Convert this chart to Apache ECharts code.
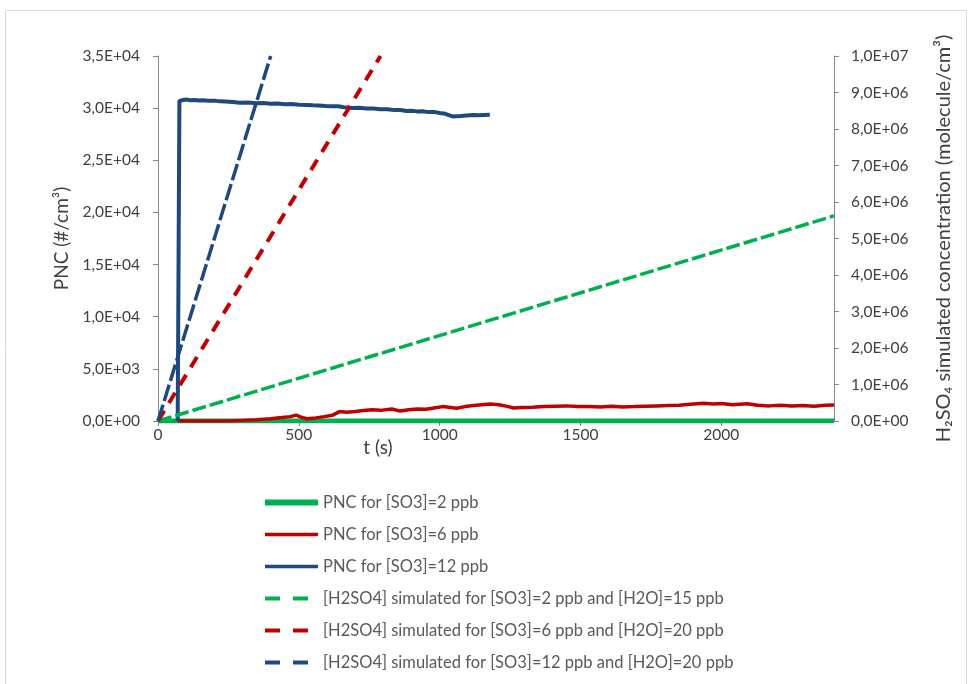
<!DOCTYPE html>
<html>
<head>
<meta charset="utf-8">
<script src="https://cdn.jsdelivr.net/npm/echarts@6/dist/echarts.min.js"></script>
<style>html,body{margin:0;padding:0;background:#fff}#c{width:970px;height:684px}</style>
</head>
<body>
<div id="c"></div>
<script>
// ---- Data (t in s, values) ----
const seriesNames = [
  'PNC for [SO3]=2 ppb',
  'PNC for [SO3]=6 ppb',
  'PNC for [SO3]=12 ppb',
  '[H2SO4] simulated for [SO3]=2 ppb and [H2O]=15 ppb',
  '[H2SO4] simulated for [SO3]=6 ppb and [H2O]=20 ppb',
  '[H2SO4] simulated for [SO3]=12 ppb and [H2O]=20 ppb'
];
const pnc2 = [[0,0],[2400,0]];
const pnc6 = [[70,0],[250,0],[300,60],[350,120],[400,220],[440,330],[470,420],[490,560],[510,350],[530,220],[560,300],[590,420],[620,560],[645,900],[670,850],[700,920],[730,1000],[760,1080],[790,1020],[830,1150],[860,950],[890,1080],[920,1150],[950,1120],[980,1250],[1010,1380],[1040,1300],[1060,1230],[1090,1380],[1120,1480],[1150,1550],[1180,1620],[1210,1560],[1240,1400],[1262,1250],[1290,1300],[1330,1330],[1370,1380],[1410,1420],[1450,1450],[1490,1380],[1530,1400],[1570,1350],[1610,1420],[1650,1350],[1690,1380],[1730,1420],[1770,1450],[1810,1480],[1850,1500],[1890,1600],[1937,1700],[1970,1620],[2000,1680],[2040,1560],[2091,1650],[2130,1500],[2170,1450],[2210,1520],[2250,1440],[2290,1480],[2330,1420],[2370,1500],[2400,1530]];
const pnc12 = [[70,0],[74,0],[76,30700],[80,30850],[90,30780],[100,30820],[115,30760],[130,30790],[145,30730],[160,30760],[180,30700],[200,30720],[220,30650],[240,30640],[265,30580],[290,30520],[320,30540],[350,30480],[375,30500],[400,30430],[425,30450],[450,30380],[475,30400],[500,30330],[530,30310],[550,30270],[570,30260],[595,30200],[620,30170],[640,30190],[660,30090],[690,30020],[715,30040],[740,29960],[765,29970],[790,29890],[815,29900],[840,29810],[860,29820],[883,29720],[900,29740],[920,29690],[940,29700],[960,29620],[980,29640],[1000,29540],[1020,29460],[1035,29300],[1046,29210],[1060,29230],[1075,29250],[1095,29300],[1118,29340],[1140,29320],[1160,29350],[1178,29360]];
const h2so4_2 = [[0,0],[2400,5.62e6]];
const h2so4_6 = [[0,0],[790,1.0e7]];
const h2so4_12 = [[0,0],[400,1.0e7]];
const colors = ['#00B050','#C00000','#1F497D','#00B050','#C00000','#1F497D'];

function sci(v){
  if (v === 0) return '0,0E+00';
  const e = Math.floor(Math.log10(Math.abs(v)) + 1e-9);
  const m = v / Math.pow(10, e);
  return m.toFixed(1).replace('.', ',') + 'E+' + (e < 10 ? '0' : '') + e;
}

const FONT = 'Lato';
const axisCol = '#868686';
const txtCol = '#404040';

const chart = echarts.init(document.getElementById('c'), null, {renderer:'canvas'});
chart.setOption({
  animation: false,
  textStyle: {fontFamily: FONT},
  graphic: [{
    type: 'rect', silent: true, z: -10,
    shape: {x: 5.5, y: 10.5, width: 961, height: 690},
    style: {fill: 'none', stroke: '#d9d9d9', lineWidth: 1}
  }],
  grid: {left: 158, right: 136, top: 56, bottom: 263, containLabel: false},
  xAxis: {
    type: 'value', min: 0, max: 2400, interval: 500,
    name: 't (s)', nameLocation: 'middle', nameGap: 17, nameMoveOverlap: false,
    nameTextStyle: {fontSize: 19, color: txtCol, fontFamily: FONT, padding: [0, 236, 0, 0]},
    axisLine: {lineStyle: {color: axisCol}},
    axisTick: {show: true, length: 5, lineStyle: {color: axisCol}},
    axisLabel: {fontSize: 15.5, color: txtCol, fontFamily: FONT, margin: 6, showMaxLabel: false, formatter: v => String(v)},
    splitLine: {show: false}
  },
  yAxis: [{
    type: 'value', min: 0, max: 35000, interval: 5000, position: 'left',
    name: 'PNC (#/cm³)', nameLocation: 'middle', nameGap: 86, nameRotate: 90,
    nameTextStyle: {fontSize: 19, color: txtCol, fontFamily: FONT},
    axisLine: {show: true, lineStyle: {color: axisCol}},
    axisTick: {show: true, length: 5, lineStyle: {color: axisCol}},
    axisLabel: {fontSize: 15.5, color: txtCol, fontFamily: FONT, margin: 18, formatter: sci},
    splitLine: {show: false}
  },{
    type: 'value', min: 0, max: 1e7, interval: 1e6, position: 'right',
    name: 'H₂SO₄ simulated concentration (molecule/cm³)', nameLocation: 'middle', nameGap: 100, nameRotate: 90,
    nameTextStyle: {fontSize: 20, color: txtCol, fontFamily: FONT},
    axisLine: {show: true, lineStyle: {color: axisCol}},
    axisTick: {show: true, length: 5, lineStyle: {color: axisCol}},
    axisLabel: {fontSize: 15.5, color: txtCol, fontFamily: FONT, margin: 17, formatter: sci},
    splitLine: {show: false}
  }],
  legend: {
    orient: 'vertical', left: 262, top: 494, padding: 0,
    itemWidth: 53, itemHeight: 10, itemGap: 15,
    itemStyle: {opacity: 0},
    textStyle: {fontSize: 16.5, color: '#595959', fontFamily: FONT},
    data: [
      {name: seriesNames[0], lineStyle: {width: 6, type: 'solid'}},
      {name: seriesNames[1], lineStyle: {width: 3.5, type: 'solid'}},
      {name: seriesNames[2], lineStyle: {width: 3.5, type: 'solid'}},
      {name: seriesNames[3], lineStyle: {width: 4, type: [15, 13]}},
      {name: seriesNames[4], lineStyle: {width: 4, type: [15, 13]}},
      {name: seriesNames[5], lineStyle: {width: 4, type: [15, 13]}}
    ]
  },
  series: [
    {name: seriesNames[0], type: 'line', yAxisIndex: 0, data: pnc2, symbol: 'none', color: colors[0], lineStyle: {width: 5, color: colors[0]}},
    {name: seriesNames[1], type: 'line', yAxisIndex: 0, data: pnc6, symbol: 'none', color: colors[1], lineStyle: {width: 3.5, color: colors[1]}},
    {name: seriesNames[2], type: 'line', yAxisIndex: 0, data: pnc12, symbol: 'none', color: colors[2], lineStyle: {width: 4, color: colors[2]}},
    {name: seriesNames[3], type: 'line', yAxisIndex: 1, data: h2so4_2, symbol: 'none', color: colors[3], lineStyle: {width: 3.5, color: colors[3], type: [14, 4]}},
    {name: seriesNames[4], type: 'line', yAxisIndex: 1, data: h2so4_6, symbol: 'none', color: colors[4], lineStyle: {width: 4, color: colors[4], type: [12, 9]}},
    {name: seriesNames[5], type: 'line', yAxisIndex: 1, data: h2so4_12, symbol: 'none', color: colors[5], lineStyle: {width: 3.5, color: colors[5], type: [17, 4]}}
  ]
});
</script>
</body>
</html>
